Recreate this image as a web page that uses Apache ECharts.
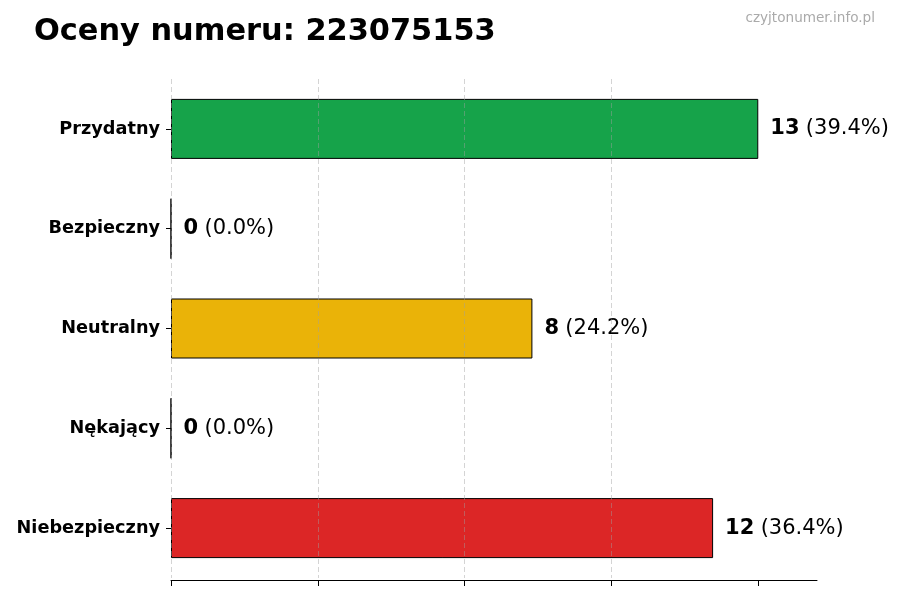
<!DOCTYPE html>
<html>
<head>
<meta charset="utf-8">
<script src="https://cdn.jsdelivr.net/npm/echarts@6/dist/echarts.min.js"></script>
<style>
  html, body { margin: 0; padding: 0; background: #fff; }
  #chart { width: 900px; height: 600px; }
</style>
</head>
<body>
<div id="chart"></div>
<script>
var categories = ['Przydatny', 'Bezpieczny', 'Neutralny', 'Nękający', 'Niebezpieczny'];
var counts = [13, 0, 8, 0, 12];
var percents = ['39.4', '0.0', '24.2', '0.0', '36.4'];
var barColors = ['#16a34a', '#6b7280', '#eab308', '#f97316', '#dc2626'];
var tickValues = [0, 3.25, 6.5, 9.75, 13];

var myChart = echarts.init(document.getElementById('chart'));
var font = 'DejaVu Sans';

var option = {
    animation: false,
    backgroundColor: '#ffffff',
    title: [
        {
            text: 'Oceny numeru: 223075153',
            left: 29,
            top: 12,
            textStyle: { fontFamily: font, fontSize: 30.4, fontWeight: 'bold', color: '#000' }
        },
        {
            text: 'czyjtonumer.info.pl',
            right: 20,
            top: 6,
            textStyle: { fontFamily: font, fontSize: 13.6, fontWeight: 'normal', color: '#aaaaaa' }
        }
    ],
    grid: { left: 171, right: 83, top: 79, bottom: 22 },
    xAxis: {
        type: 'value',
        min: 0,
        max: 14.3,
        interval: 3.25,
        offset: 2,
        z: 3,
        axisLine: { show: true, lineStyle: { color: '#000', width: 1 } },
        axisTick: { show: true, length: 6, customValues: tickValues, lineStyle: { color: '#000' } },
        axisLabel: { show: false },
        splitLine: {
            show: true,
            showMaxLine: false,
            lineStyle: { color: 'rgba(160,160,160,0.45)', type: [5, 3], width: 1 }
        }
    },
    yAxis: {
        type: 'category',
        data: categories,
        inverse: true,
        axisLine: { show: false },
        axisTick: { show: true, alignWithLabel: true, length: 5, lineStyle: { color: '#000' } },
        axisLabel: { margin: 11, fontFamily: font, fontSize: 17.7, fontWeight: 'bold', color: '#000' }
    },
    series: [{
        type: 'bar',
        barWidth: 60,
        data: counts.map(function (v, i) {
            return { value: v, itemStyle: { color: barColors[i] } };
        }),
        itemStyle: { borderColor: '#000', borderWidth: 1 },
        label: {
            show: true,
            position: 'right',
            distance: 12,
            formatter: function (p) {
                return '{b|' + counts[p.dataIndex] + '} {n|(' + percents[p.dataIndex] + '%)}';
            },
            rich: {
                b: { fontFamily: font, fontSize: 21, fontWeight: 'bold', color: '#000', padding: [0, 3, 0, 0] },
                n: { fontFamily: font, fontSize: 21, color: '#000' }
            }
        }
    }]
};

myChart.setOption(option);
</script>
</body>
</html>
